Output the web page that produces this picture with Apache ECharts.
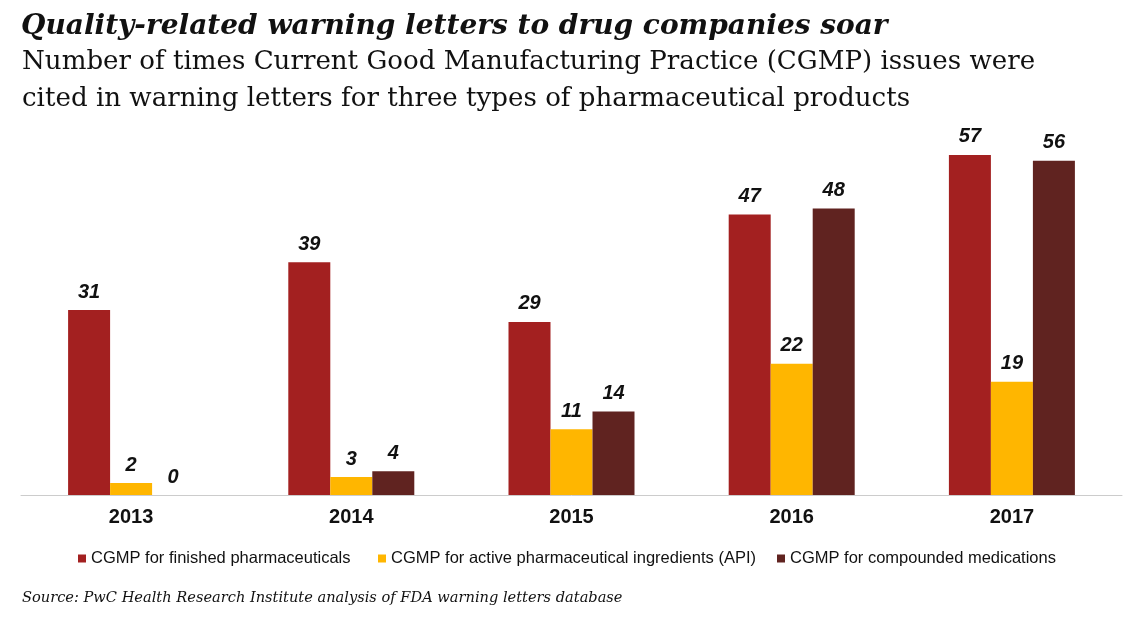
<!DOCTYPE html>
<html><head><meta charset="utf-8">
<script src="https://cdn.jsdelivr.net/npm/echarts@6/dist/echarts.min.js"></script>
<style>html,body{margin:0;padding:0;background:#fff}#c{width:1140px;height:624px}</style>
</head><body><div id="c"></div>
<script>
const categories = ['2013','2014','2015','2016','2017'];
const seriesNames = ['CGMP for finished pharmaceuticals','CGMP for active pharmaceutical ingredients (API)','CGMP for compounded medications'];
const finished = [31, 39, 29, 47, 57];
const api = [2, 3, 11, 22, 19];
const compounded = [0, 4, 14, 48, 56];
const colors = ['#A32020','#FFB600','#602320'];

const chart = echarts.init(document.getElementById('c'));
const lbl = {show:true, position:'top', distance:8, fontFamily:'Liberation Sans', fontStyle:'italic', fontWeight:'bold', fontSize:20, color:'#111'};
const data = [finished, api, compounded];
const legendLefts = [73, 373, 772];
chart.setOption({
  animation:false,
  title:[
    {text:'Quality-related warning letters to drug companies soar', left:16, top:8,
     textStyle:{fontFamily:'DejaVu Serif', fontStyle:'italic', fontWeight:'bold', fontSize:28, color:'#111'}},
    {text:'Number of times Current Good Manufacturing Practice (CGMP) issues were\ncited in warning letters for three types of pharmaceutical products', left:17, top:39,
     textStyle:{fontFamily:'DejaVu Serif', fontWeight:'normal', fontSize:26.1, lineHeight:37, color:'#111'}},
    {text:'Source: PwC Health Research Institute analysis of FDA warning letters database', left:17, top:586,
     textStyle:{fontFamily:'DejaVu Serif', fontStyle:'italic', fontWeight:'normal', fontSize:14.6, color:'#111'}}
  ],
  legend: seriesNames.map((n,i)=>({left:legendLefts[i], top:545, itemWidth:8, itemHeight:8, icon:'rect',
    textStyle:{fontFamily:'Liberation Sans', fontSize:16.5, color:'#111'}, data:[n]})),
  grid:{left:21, right:18, top:137, bottom:129},
  xAxis:{type:'category', data:categories, axisTick:{show:false},
    axisLine:{lineStyle:{color:'#cccccc', width:1}},
    axisLabel:{fontFamily:'Liberation Sans', fontWeight:'bold', fontSize:20, color:'#111', margin:12}},
  yAxis:{type:'value', min:0, max:60, show:false, splitLine:{show:false}},
  series: seriesNames.map((n,i)=>({name:n, type:'bar', data:data[i], barWidth:42, barGap:'0%',
    itemStyle:{color:colors[i]}, label:lbl}))
});
</script></body></html>
